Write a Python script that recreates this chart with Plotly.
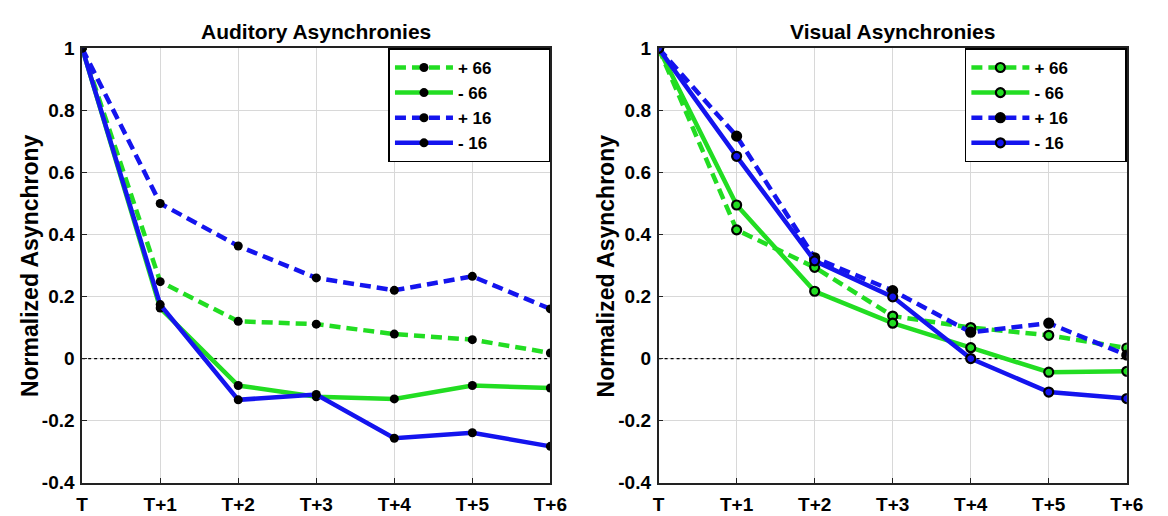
import plotly.graph_objects as go

categories = ["T", "T+1", "T+2", "T+3", "T+4", "T+5", "T+6"]
y_ticks = [-0.4, -0.2, 0, 0.2, 0.4, 0.6, 0.8, 1]
y_tick_labels = ["-0.4", "-0.2", "0", "0.2", "0.4", "0.6", "0.8", "1"]
zero_ref = [0, 0, 0, 0, 0, 0, 0]

series_names = ["+ 66", "- 66", "+ 16", "- 16"]

aud_p66 = [1, 0.248, 0.120, 0.111, 0.079, 0.061, 0.018]
aud_m66 = [1, 0.163, -0.087, -0.123, -0.130, -0.087, -0.095]
aud_p16 = [1, 0.500, 0.363, 0.260, 0.220, 0.265, 0.160]
aud_m16 = [1, 0.174, -0.133, -0.116, -0.257, -0.239, -0.283]

vis_p66 = [1, 0.415, 0.294, 0.137, 0.100, 0.075, 0.034]
vis_m66 = [1, 0.495, 0.217, 0.114, 0.035, -0.044, -0.041]
vis_p16 = [1, 0.717, 0.325, 0.219, 0.085, 0.114, 0.011]
vis_m16 = [1, 0.652, 0.315, 0.199, 0.000, -0.108, -0.129]

GREEN = "#22dd22"
BLUE = "#1414ee"
DASH = "11px,6px"
styles = [(GREEN, DASH), (GREEN, "solid"), (BLUE, DASH), (BLUE, "solid")]

W, H = 1168, 516
FONT = "Liberation Sans, Arial, Helvetica, sans-serif"
PAD = "\u00a0" * 11

def px_x(p):
    return p / W

def px_y(p):
    return 1 - p / H

fig = go.Figure()

# dotted zero reference lines (drawn first so they sit under the data)
for xa, ya in (("x", "y"), ("x2", "y2")):
    fig.add_trace(go.Scatter(
        x=categories, y=zero_ref, mode="lines", showlegend=False, hoverinfo="skip",
        line=dict(color="black", width=1.3, dash="dot"), xaxis=xa, yaxis=ya,
    ))

aud = [aud_p66, aud_m66, aud_p16, aud_m16]
vis = [vis_p66, vis_m66, vis_p16, vis_m16]
vis_open = [True, True, False, True]

for name, vals, (col, dash) in zip(series_names, aud, styles):
    fig.add_trace(go.Scatter(
        x=categories, y=vals, name=name + PAD, mode="lines+markers",
        line=dict(color=col, width=4.5, dash=dash),
        marker=dict(color="black", size=9, symbol="circle"),
        xaxis="x", yaxis="y", legend="legend",
    ))

for name, vals, (col, dash), op in zip(series_names, vis, styles, vis_open):
    fig.add_trace(go.Scatter(
        x=categories, y=vals, name=name + PAD, mode="lines+markers",
        line=dict(color=col, width=4.5, dash=dash),
        marker=dict(color=col if op else "black", size=9, symbol="circle",
                    line=dict(color="black", width=2.2)),
        xaxis="x2", yaxis="y2", legend="legend2",
    ))

xd1 = [px_x(77.7), px_x(555.3)]
xd2 = [px_x(665.7), px_x(1143.3)]
yd = [px_y(492.7), px_y(40)]

axis_common = dict(
    showgrid=True, gridcolor="#d8d8d8", gridwidth=1,
    showline=True, linecolor="#222222", linewidth=1.6, mirror=True,
    ticks="inside", ticklen=5, tickcolor="#222222", tickwidth=1.3,
    zeroline=False,
    tickfont=dict(family=FONT, size=19, color="black", weight="bold"),
)

xaxis_common = dict(axis_common, type="category", categoryorder="array",
                    categoryarray=categories, range=[0, 6], ticklabelstandoff=4)
yaxis_common = dict(axis_common, range=[-0.4, 1], tickvals=y_ticks,
                    ticktext=y_tick_labels, ticklabelstandoff=2)

legend_common = dict(
    bgcolor="white", bordercolor="black", borderwidth=1.6,
    font=dict(family=FONT, size=17, color="black", weight="bold"),
    itemwidth=58, tracegroupgap=0, yanchor="top", xanchor="right",
    itemclick=False, itemdoubleclick=False,
)

fig.update_layout(
    width=W, height=H,
    margin=dict(l=0, r=0, t=0, b=0),
    paper_bgcolor="white", plot_bgcolor="white",
    xaxis=dict(xaxis_common, domain=xd1, anchor="y"),
    yaxis=dict(yaxis_common, domain=yd, anchor="x"),
    xaxis2=dict(xaxis_common, domain=xd2, anchor="y2"),
    yaxis2=dict(yaxis_common, domain=yd, anchor="x2"),
    legend=dict(legend_common, x=xd1[1], y=px_y(40)),
    legend2=dict(legend_common, x=xd2[1], y=px_y(40)),
    annotations=[
        dict(text="Auditory Asynchronies", x=(xd1[0] + xd1[1]) / 2, y=px_y(22),
             xref="paper", yref="paper", showarrow=False, xanchor="center", yanchor="middle",
             font=dict(family=FONT, size=21, color="black", weight="bold")),
        dict(text="Visual Asynchronies", x=(xd2[0] + xd2[1]) / 2, y=px_y(22),
             xref="paper", yref="paper", showarrow=False, xanchor="center", yanchor="middle",
             font=dict(family=FONT, size=21, color="black", weight="bold")),
        dict(text="Normalized Asynchrony", x=px_x(24), y=(yd[0] + yd[1]) / 2,
             xref="paper", yref="paper", showarrow=False, textangle=-90,
             xanchor="center", yanchor="middle",
             font=dict(family=FONT, size=23, color="black", weight="bold")),
        dict(text="Normalized Asynchrony", x=px_x(612), y=(yd[0] + yd[1]) / 2,
             xref="paper", yref="paper", showarrow=False, textangle=-90,
             xanchor="center", yanchor="middle",
             font=dict(family=FONT, size=23, color="black", weight="bold")),
    ],
)

fig.write_html("out.html")
